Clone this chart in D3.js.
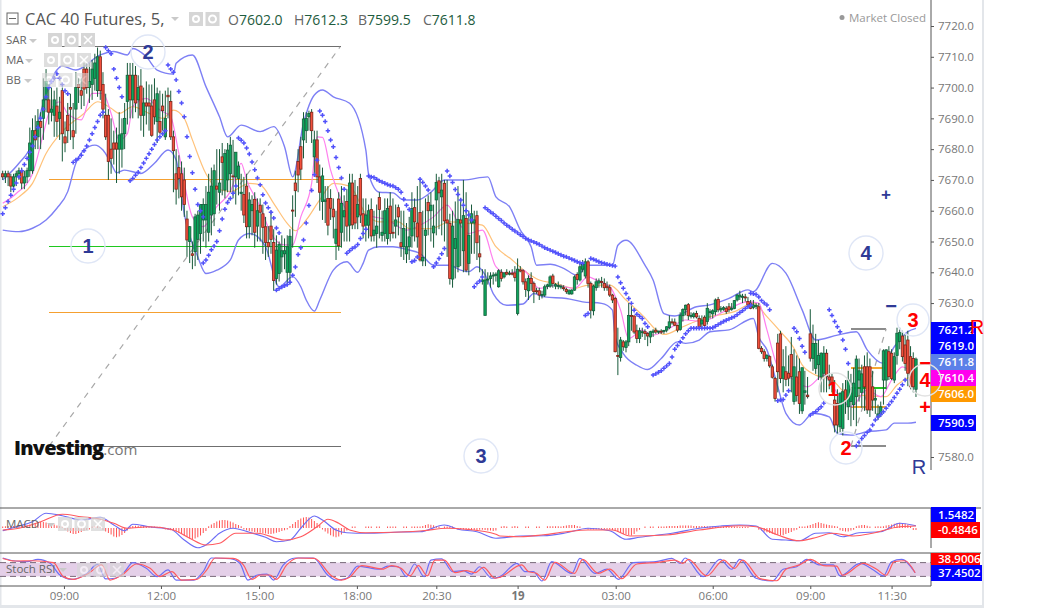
<!DOCTYPE html>
<html>
<head>
<meta charset="utf-8">
<script src="https://cdnjs.cloudflare.com/ajax/libs/d3/7.8.5/d3.min.js"></script>
<style>
body { margin: 0; background: #fff; }
text { font-family: "Open Sans", sans-serif; }
</style>
</head>
<body>
<svg id="chart" width="1047" height="608"></svg>
<script>
// open, high, low, close per 5 minute bar
var barsEarly = [
[7672,7673,7670,7671],[7671,7673,7669,7672],[7672,7673,7668,7671],[7671,7672,7666,7668],[7668,7672,7666,7671],[7671,7673,7668,7672],
[7672,7674,7670,7673],[7673,7674,7667,7669],[7669,7673,7667,7671],[7671,7674,7669,7673],[7673,7687,7671,7682],[7673,7690,7672,7686],
[7686,7691,7680,7683],[7684,7693,7680,7689],[7689,7692,7680,7687],[7690,7703,7683,7696],[7696,7706,7692,7702],[7696,7701,7688,7692],
[7692,7700,7689,7693],[7691,7699,7684,7696],[7694,7700,7684,7689],[7690,7697,7683,7692],[7699,7700,7676,7685],[7684,7689,7679,7682]
];
var barsMorning = [
[7691,7695,7682,7686],[7693.5,7698,7683,7693],[7686,7695,7680,7684],[7693,7705,7685,7700],[7701,7703,7695,7700],[7699,7703,7693,7697.5],
[7706,7708,7694,7699.5],[7706,7708,7698,7700],[7700,7708,7695,7702],[7701,7709,7696,7706],[7703,7711,7699,7708],[7699,7713,7697,7710],
[7710,7712,7696,7699],[7701,7705,7690,7693],[7691,7698,7683,7684],[7691,7693,7670,7676],[7680,7690,7672,7677],[7682,7686,7675,7680],
[7682,7687,7669,7680],[7680,7692,7672,7684.6],[7680,7690,7674,7685],[7685,7695,7680,7690],[7695.5,7708,7688,7704],[7704,7708,7690,7696],
[7696,7708,7690,7704],[7704,7707,7692,7695],[7696,7704,7690,7700],[7700.5,7706,7686,7691],[7691,7700,7684,7695],[7695,7702,7688,7694],
[7695,7701,7686,7694],[7694,7701,7684,7684.5],[7696,7703,7688,7690.5],[7689,7700,7682,7698],[7689,7699,7685,7685.5],[7694,7698,7686,7692.5],
[7684,7699,7683,7690]
];
var barsNoon = [
[7697.5,7700,7690,7697],[7695.5,7699,7683,7684],[7684,7686,7666,7679.5],[7672,7680,7662,7667],[7674,7678,7664,7670.5],[7672,7676,7660,7664.5],
[7670,7674,7658,7662],[7657.3,7660,7645,7650.5],[7650,7655,7643,7654.8],[7646,7650,7641,7645.5],[7646.7,7659,7642,7658],[7650.7,7660,7644,7658.6],
[7652.6,7662,7646,7662],[7657,7664,7650,7662],[7657,7668,7648,7662],[7653,7672,7650,7666],[7658.6,7674,7652,7668],[7659,7675,7655,7673],
[7668,7680,7662,7667],[7666,7680,7660,7669],[7677.5,7682,7665,7675.7],[7666.7,7680,7664,7678.6],[7670,7682,7666,7679.7],[7672,7684,7666,7681.3],
[7671.3,7683,7664,7671],[7671,7679,7662,7679],[7670.5,7676,7665,7674.5],[7665.6,7672,7660,7666],[7665.3,7671,7656,7658.6],[7668,7672,7651,7654.8],
[7654.8,7666,7651,7663.5],[7660,7665,7652,7662],[7663.7,7666,7648,7653],[7655,7664,7650,7660],[7661.8,7664,7650,7659.5]
];
var barsAfternoon = [
[7659,7662,7646,7654.6],[7654.8,7658,7644,7649.7],[7649.7,7655,7645,7648.3],[7655,7660,7646,7650.7],[7649.7,7654,7634,7637.3],[7638,7652,7636,7647.2],
[7639.6,7650,7637,7649],[7645,7652,7640,7647],[7646,7651,7641,7647],[7640,7652,7636,7648.3],[7640,7654,7636,7651.7],[7660.2,7665,7648,7660],
[7669,7673,7658,7666.5],[7676,7680,7666,7671.6],[7680.8,7684,7670,7673.5],[7683,7692,7677,7689.8],[7686,7692,7682,7690],[7690.5,7692.5,7686,7691.6],
[7692,7693,7682,7686],[7677.5,7686,7672,7683],[7683,7686,7669,7671],[7671,7675,7660,7666],[7663,7674,7657,7671.3],[7663,7668,7656,7663.5],
[7664,7668,7652,7655.3],[7664,7667,7657,7660.8],[7660.5,7664,7651,7658],[7649.4,7660,7644,7654],[7663.8,7666,7647,7648.6],[7653,7668,7648,7662.4],
[7658,7665,7650,7660],[7663,7667,7650,7655],[7655.3,7672,7650,7669]
];
var barsEvening = [
[7669,7672,7654,7655.4],[7665,7670,7654,7656],[7658,7668,7654,7662],[7670.5,7672,7656,7658.6],[7659,7664,7651,7655],[7655.3,7664,7650,7658.6],
[7655.3,7662,7651,7660],[7660.4,7664,7650,7651.8],[7652,7660,7650,7653.7],[7652.6,7662,7648,7655],[7664.3,7666,7651,7660.4],[7652,7660,7650,7653],
[7652.6,7664,7650,7660],[7651,7664,7649,7660.7],[7661.5,7666,7650,7652.6],[7653,7664,7651,7652.8],[7655,7662,7651,7657],[7661,7662,7652,7658],
[7649.6,7660,7645,7648.3],[7648.3,7660,7644,7654.2],[7646,7656,7643,7648.3],[7648.3,7658,7644,7651.5],[7651.8,7666,7648,7660.7],[7661,7664,7650,7656.4],
[7656,7668,7648,7651.5],[7659.4,7670,7643.5,7644],[7643.7,7660,7642,7644.8],[7652,7664,7642,7653.7],[7662.7,7665,7652,7660],[7660,7666,7650,7661.8],
[7652.8,7662,7648,7655],[7663.5,7672,7652,7669.2],[7669.7,7671,7654,7665.8],[7664.5,7672,7652,7666.7],[7668.9,7670,7650,7656.7],[7657,7670,7645,7656],
[7655.9,7659,7636,7638],[7637.8,7660,7635,7655],[7647.7,7663,7638,7651],[7641.8,7668,7640,7657.2],[7657,7664,7642,7656],[7647,7670,7640,7658.4],
[7657.5,7666,7640,7640.7],[7642.9,7660,7639,7652],[7656,7662,7646,7659],[7656,7660,7646,7657],[7658.4,7660,7644,7649.6],[7646,7652,7640,7645],
[7637,7641,7636,7637.5]
];
var barsNight = [
[7626,7641,7626,7637.5],[7637.5,7640,7636,7637.8],[7638,7640,7635,7638.8],[7639,7640,7636,7639.1],[7639,7640,7637,7639.4],[7635.3,7641,7635,7640.5],
[7640,7641,7637,7638],[7638.5,7640,7638,7639.8],[7640,7641,7639,7639.4],[7639.5,7640.5,7639,7639.7],[7639.7,7641,7639,7639.5],[7639.8,7642,7637,7638.3],
[7626.6,7644.5,7626,7641],[7640.8,7642,7640,7640.4],[7640.5,7641,7636,7636.9],[7636.9,7638,7632,7634.4],[7634,7639,7631,7638],[7638,7640,7634,7636.4],
[7636.4,7637,7630,7633.7],[7634,7635,7633,7633.8],[7634,7635,7631,7632.6],[7632.6,7634,7631.5,7632.8],[7632.6,7636,7632,7635.3],[7635.4,7636.3,7634.5,7635.9],
[7635.5,7639,7635,7638.5],[7638.8,7639.5,7635,7636.4],[7635.5,7636.5,7634.5,7636],[7635.5,7637,7634.5,7635.7],[7635.3,7636,7634.5,7635.5],[7635,7635.8,7634,7634.8],
[7634.4,7635,7633,7633.7],[7633,7634.5,7632.7,7634],[7633,7634.5,7632.7,7634.2],[7634.2,7639,7634,7638.5],[7639.3,7640,7636,7637.7],[7637.5,7643,7637,7641.8],
[7641,7644,7640,7642.5],[7638.8,7644.5,7638,7643.4],[7643.4,7644,7635,7636.4],[7636.4,7637,7625,7627.7],[7627.5,7636,7626,7635.5],[7635,7638,7634,7636.9],
[7636.5,7638,7635,7637.2],[7637,7638.5,7635,7636.8],[7636.4,7638,7634,7635],[7635.5,7637,7634,7635],[7635,7636,7632,7632.6],[7632.6,7633,7630,7631]
];
var barsDawn = [
[7631.5,7632,7614,7614.2],[7613,7622,7606.6,7612.8],[7612.3,7619,7611,7618],[7617.4,7618,7614.5,7615.8],[7615.6,7618,7614,7617.4],[7617.4,7630,7616,7626],
[7626,7629,7621,7625.8],[7625.8,7626,7620,7620.6],[7621,7623,7617,7618.5],[7618.5,7622,7617,7621],[7620.5,7622,7619,7620.7],[7620.7,7621.5,7618,7620.1],
[7620.1,7620.5,7616,7619.3],[7619,7621,7617,7620.7],[7620.5,7621.5,7619,7620.9],[7621.2,7622,7620,7620.6],[7620.6,7621,7620,7620.9],[7620.9,7621.5,7620,7620.8],
[7620.8,7621.3,7620,7621.1],[7621.2,7622.5,7620.5,7622.3],[7622,7626,7621.5,7623.9],[7623.9,7625,7623,7623.7],[7623.8,7625,7622.5,7622.8],[7622.7,7623,7620.5,7621.2],
[7621.4,7627,7621,7625.9],[7625.9,7628.3,7624,7627.9],[7627.9,7629.5,7626,7629.3],[7629.5,7630,7624.5,7625.9],[7625.9,7627,7625,7626],[7625.6,7627,7625,7626.5],
[7626.6,7627.5,7625,7625.5],[7625,7626,7621.5,7622.3],[7623.2,7626,7622,7624.5],[7625.4,7626,7622,7622.7],[7624,7630,7623,7628.3],[7627,7628,7625,7627.2],
[7626.5,7628,7625,7627.5],[7627.2,7631.5,7626,7631],[7631.2,7632,7627,7627.8],[7627.8,7629,7627,7628.2],[7628,7629,7627.5,7628.5],[7628.3,7629,7626.5,7627.2],
[7628.8,7630,7627,7627.8],[7628,7630,7627.5,7628.3],[7628.3,7631,7628,7630.8],[7631,7633,7630.5,7632.6],[7632,7634,7631,7632.6],[7632,7633,7630,7632.2],
[7632,7633,7630.5,7631.8],[7630.5,7632,7629,7629.4],[7630,7631,7628,7628.3],[7628.6,7631,7628,7629.4],[7629,7630,7628,7629.2]
];
var barsLate = [
[7628.8,7630,7615,7615.3],[7615.3,7616,7613.5,7614.2],[7614.2,7615,7611,7612],[7612,7613.5,7611,7613],[7612.6,7613,7609,7609.6],[7609.3,7610,7605.5,7605.9],
[7605.5,7606,7598,7599],[7617,7620,7601,7607.7],[7620,7621,7604,7605.5],[7605.5,7615,7601,7609.3],[7607.7,7616,7603,7605.2],[7607.2,7613,7603,7605.6],
[7613.3,7619,7601,7606.1],[7598,7615,7597,7609.3],[7606,7613,7598,7600],[7607.7,7612,7594,7597.4],[7595,7609,7594,7609],[7601,7608,7597,7601.5],
[7600.1,7606,7599,7599.6],[7620,7628,7611,7612.1],[7612,7623,7608,7616.9],[7608.8,7620,7607,7616.9],[7610,7618,7605,7613],[7606,7614,7601,7613.7],
[7607.2,7616,7601,7613.7],[7613.7,7615,7601,7606.1],[7606,7610,7602,7605],[7606,7607,7601,7604],[7598.5,7605,7588,7590.4],[7597.4,7602,7587.5,7590.4],
[7589.8,7601,7588,7600.7],[7589.3,7604,7587,7601.2],[7601.8,7605,7594,7598.5],[7596.3,7608,7592,7605],[7598,7607,7590,7602],[7597,7609,7592,7604],
[7599.6,7613,7590,7611.8],[7605,7612,7598,7608],[7601,7610,7596,7607],[7609.3,7613,7595,7602.8],[7609.3,7614,7594,7595.3],[7609.3,7612,7593,7595.3],
[7602.8,7608,7595,7598.5],[7598.5,7602,7594,7599],[7593.1,7597,7592,7594],[7594,7598,7593,7596.3],[7605,7615,7597,7614.5],[7605,7615,7602,7614.8],
[7614.2,7616,7605,7606.1],[7613.7,7615,7605,7605.5],[7605,7614,7604,7612.6],[7613,7622,7610,7620.2],[7617.5,7622,7615,7620.4],[7619.3,7621,7611,7612.6],
[7616.4,7620,7608,7610.4],[7618,7621,7603,7607.2],[7612.6,7616,7602,7602.8],[7612,7614,7601,7602.8],[7602,7612.3,7599.5,7611.8]
];

// indicator lines as [bar, value]
var bbUpper = [[0,7670],[6,7675.4],[11,7682],[15,7695],[20,7705.7],[22,7707],[27,7705.7],[36,7710.6],[41,7711.7],[46,7710.6],[48,7712.7],[53,7710],[57,7705.7],[63,7704.4],[64,7707.9],[70,7710.6],[75,7700.3],[80,7690.5],[83,7684],[88,7687.8],[95,7685.7],[100,7687.3],[104,7680.8],[107,7671],[111,7688.4],[115,7697.6],[118,7699.2],[122,7697],[128,7694.9],[134,7679.7],[135,7672],[139,7666],[144,7665.8],[148,7663.5],[153,7663.5],[158,7666],[163,7670],[170,7670],[179,7671],[182,7664.5],[187,7661.3],[191,7653.7],[195,7648.3],[197,7642.3],[202,7642.6],[207,7641.3],[212,7639],[216,7642.3],[225,7642.3],[227,7648.8],[230,7650.4],[237,7642.3],[240,7637.5],[244,7626.6],[248,7625.8],[256,7628.8],[261,7629.4],[268,7631.5],[275,7634.3],[277,7633.7],[284,7642.9],[289,7639.7],[295,7627.8],[300,7618],[308,7619.6],[315,7620.7],[319,7614.8],[325,7610.4],[329,7615.8],[334,7620.7],[337,7621.8]];
var bbLower = [[0,7653.7],[6,7653.2],[11,7654.3],[16,7657],[20,7660.8],[24,7666.2],[27,7675.4],[30,7679.7],[34,7681.3],[37,7679.7],[40,7675.4],[42,7672.3],[45,7673.2],[51,7672.1],[56,7675.4],[61,7679.7],[64,7676.5],[67,7659],[72,7645],[75,7639.6],[79,7640.7],[84,7644],[87,7650.5],[91,7652.6],[94,7651.6],[97,7648.3],[102,7635.3],[107,7638.6],[110,7635.3],[112,7631],[115,7627.4],[117,7631],[122,7640.7],[127,7643.4],[131,7640],[133,7642.9],[135,7647.2],[139,7648.3],[144,7648.3],[149,7647.4],[154,7646.1],[159,7642.3],[165,7642.3],[169,7640.7],[172,7640.2],[175,7641.8],[179,7637.5],[181,7633.1],[186,7629.3],[192,7629.7],[196,7633.1],[200,7632],[208,7631.5],[214,7630.4],[221,7629.9],[225,7627.7],[226,7619],[229,7613.6],[234,7609.8],[238,7608.4],[243,7612],[249,7617.4],[252,7616.9],[257,7618],[261,7620.7],[268,7621.3],[277,7625],[279,7619],[282,7614.8],[286,7602.8],[289,7594.2],[294,7590.4],[299,7594.2],[305,7593],[308,7587.7],[313,7587.1],[319,7588.2],[326,7588.8],[329,7591],[334,7591],[337,7591.3]];
var maSlow = [[0,7661.3],[6,7664.5],[11,7668.9],[16,7678.6],[22,7685.7],[30,7691.6],[35,7695.4],[40,7693.3],[43,7691.6],[48,7693.8],[54,7691.6],[59,7690],[63,7692.7],[67,7690],[70,7683],[75,7672],[79,7667.3],[84,7666.2],[91,7668.9],[95,7668.4],[100,7662.4],[105,7655.9],[108,7653.5],[112,7657],[117,7663.5],[122,7668.9],[128,7668],[134,7659],[139,7656.4],[146,7656.4],[150,7654.2],[158,7654.2],[165,7656.4],[172,7655.9],[177,7655.3],[182,7648.3],[188,7644],[193,7640.2],[198,7637.5],[204,7636.4],[211,7634.8],[216,7635.8],[224,7635.8],[230,7631],[236,7626.1],[244,7619.8],[251,7622.3],[257,7624.5],[261,7625.6],[270,7627.2],[277,7630],[282,7625.6],[287,7620.7],[292,7615.3],[295,7609.9],[300,7606.6],[306,7605],[313,7599.6],[317,7600],[326,7599.6],[330,7603.4],[335,7606.1],[337,7606.6]];
var maFast = [[0,7662.4],[5,7665.6],[11,7672],[15,7685],[17,7691.6],[21,7695.4],[24,7691.6],[29,7689.5],[33,7698.1],[37,7698.1],[40,7691.6],[43,7683],[46,7685],[48,7693.8],[53,7696.5],[58,7692.7],[62,7690.5],[65,7678.6],[70,7658],[74,7654.8],[79,7661.3],[84,7666.2],[88,7675.4],[90,7670],[95,7661.3],[99,7652.6],[104,7648.9],[107,7648.9],[110,7658],[114,7668.9],[116,7684],[118,7683.8],[121,7673.2],[125,7663.5],[128,7659],[132,7659],[137,7658],[142,7657],[149,7653.7],[154,7655.3],[159,7658],[164,7661.8],[168,7656.4],[172,7652.6],[177,7653.7],[182,7641.8],[186,7639.6],[192,7640.7],[198,7634.8],[204,7635.8],[211,7634.8],[216,7638.5],[219,7637.5],[224,7635.3],[228,7627.7],[231,7618.5],[236,7621.2],[240,7619.6],[246,7621.8],[252,7624.5],[258,7624],[266,7627.2],[275,7630.5],[279,7630],[282,7621.3],[286,7609.3],[291,7605.6],[297,7602.8],[303,7606.6],[308,7600.7],[313,7596.3],[319,7601.8],[324,7599.6],[328,7605],[332,7609.3],[337,7606]];

// parabolic SAR runs: [first bar, values for each following bar]
var sarRuns = [
[0,[7659,7661,7663,7665,7667,7669,7671,7673,7675,7677,7679,7681,7684,7687,7690,7693,7697,7700,7702,7703]],
[20,[7704.5,7703,7701,7699,7698]],
[26,[7675.7,7676.5,7677,7678,7679.5,7681,7683,7685,7687,7689,7691,7692]],
[38,[7713,7712,7711,7706,7703,7700,7697]],
[47,[7669.7,7670.5,7671.5,7672.5,7674,7675.5,7677,7678.5,7680,7681.5,7683,7684,7685,7686]],
[61,[7707.3,7706,7705,7702.5,7698.7,7695,7690.5,7684,7677.6,7672.3,7667,7662,7660,7658]],
[74,[7643,7644,7645.5,7647.3,7648.5,7650,7653.5,7657.3,7660.5,7662.7,7664,7665.7,7668]],
[87,[7683.6,7682.9,7682,7680.4,7678.4,7675.8,7673.3,7670.6,7668.4,7665.2,7662.5,7661,7659.5,7657.6,7654.4,7652.8]],
[101,[7634.2,7634.7,7635.2,7635.6,7636,7636.8,7639,7641.7,7645.8,7648,7650.5,7656,7661.7,7666.6,7671.7,7676.4]],
[117,[7692.4,7691,7689,7686,7683,7680.8,7677.3,7674,7670.6,7667]],
[127,[7646.2,7647,7647.7,7648.2,7649,7651,7652.6,7654]],
[135,[7671.3,7671,7670.8,7670.2,7669.7,7669.3,7668.9,7668.5,7668.2,7668,7667.5,7667,7666,7663.7,7661.8,7660.4]],
[151,[7643.4,7643.8,7645]],
[154,[7670.2,7669.2,7668,7666.7]],
[159,[7641.8,7643,7644.5,7646,7647.7]],
[164,[7672.9,7671.3,7669.2,7666.9,7665.3,7663.5,7661.8,7660,7658.6,7657]],
[174,[7635.3,7636.4,7637.2,7638.5]],
[178,[7661,7660.3,7659.6,7659,7658.2,7657.5,7656.8,7656,7655.3,7654.7,7654,7653.4,7652.8,7652.2,7651.6,7651,7650.6,7650.2,7649.8,7649.4,7649,7648.5,7648,7647.6,7647.2,7646.8,7646.4,7646,7645.6,7645.2,7645,7644.6,7644.2,7643.8,7643.4,7643.1,7642.9]],
[215,[7626,7626.6]],
[217,[7644.5,7644.2,7643.8,7643.4,7643.1,7642.9,7642.6,7642.4,7642.2,7642,7638.5,7636.6,7634.8,7633.1,7631.5,7629.9,7627.7,7626.4,7625.7,7625,7623.4,7622.3]],
[240,[7606.6,7607,7607.5,7608,7608.8,7609.6,7610.4,7612.5,7615,7616.2,7617.4,7618.7,7620,7621,7621.8,7621.8,7621.8,7621.8,7621.8,7621.8,7621.9,7621.8]],
[262,[7622,7622.5,7623,7623.5,7624,7624.4,7624.8,7625.2,7625.6,7626.2,7626.9,7627.5,7628.2,7628.8,7629.3]],
[276,[7633.2,7633,7632.8,7632,7630.8,7630,7629.4,7627.8]],
[286,[7598.3,7598.5,7598.7,7600.1,7601.5]],
[292,[7621.8,7620.7,7618.5,7616,7614]],
[298,[7593.6,7594.2,7594.7,7595.5,7596.3,7597.5]],
[305,[7627.8,7626,7624,7622.3,7620.7,7618,7615,7610.4]],
[315,[7583.6,7584.8,7586,7587,7588,7588.8,7590.4,7592,7593,7593.8,7594.7,7595.8,7597,7598,7599.3,7600.7,7602,7603.5,7605]]
];

// MACD pane
var macdLine = [[0,-1.1],[5,.5],[11,2.5],[16,5.9],[22,4.9],[29,3.2],[36,4.3],[41,1.2],[45,-1.1],[48,1.5],[54,.5],[62,-.5],[67,-4.8],[72,-7.9],[75,-6.8],[80,-2.1],[85,-.1],[91,-1.7],[97,-3.7],[101,-5.5],[106,-4.8],[110,-.1],[115,4.8],[118,3.2],[123,-.8],[127,-1.9],[134,-2.1],[147,-1.6],[154,-1.5],[163,1.2],[168,-.5],[175,-1.5],[182,-4.1],[191,-3.2],[199.5,-3.1],[208,-1.9],[216,-.1],[224,-1.1],[230,-4.5],[235,-3.7],[247,-2.1],[257,-.1],[265,.8],[272,1.2],[278,.8],[284,-4.5],[289,-4.8],[294,-5.1],[300,-2.1],[305,-1.9],[310,-3.5],[316,-1.9],[324,-1.5],[331,1.9],[337,.9]];
var macdSignal = [[0,-.8],[6,-.1],[14,2.5],[22,5.5],[29,4.5],[36,3.5],[41,1.9],[46,-.1],[54,.5],[63,-.8],[69,-4.1],[75,-6.8],[80,-6.1],[86,-2.1],[94,-2.1],[104,-4.8],[110,-3.5],[116,.5],[120,3.5],[124,1.9],[128,-.8],[134,-1.9],[147,-1.6],[155,-1.1],[164,-.1],[171,-.5],[182,-2.5],[183.5,-3.2],[191,-3.5],[199.5,-2.7],[208,-1.5],[216,-.8],[225,-.8],[231.5,-3.2],[245,-2.8],[257,-.8],[272,.9],[278,.5],[286,-2.8],[294,-5.1],[300.5,-3.7],[306,-2.1],[314,-3.2],[321,-2.1],[331,.5],[337,.8]];
var macdHist = [.2,.3,.4,.3,.4,.5,.5,
.6,.8,.8,1,1.2,1.5,1.8,2,2,1.8,1.5,1.2,1,.6,.4,.2,
-.4,-1,-1.6,-2,-2,-1.6,-1.2,
-.8,-.4,-.2,.2,.4,.3,.1,-.4,
-1,-1.6,-2.2,-3,-3.3,-3,-2.4,-1.6,-.6,
.2,.4,.5,.5,.4,.4,.3,.2,.2,.2,.1,.1,0,-.2,-.3,-.5,
-.8,-1.2,-1.6,-2,-2.6,-3.2,-3.8,-4,-3.8,-3.3,-2.6,-1.6,-.8,
.3,1,1.6,2.2,2.6,2.8,2.8,2.6,2.2,1.8,1.2,.8,.3,
-.2,-.5,-.8,-1,-1.2,-1.4,-1.5,-1.6,-1.8,-2,-2,-1.8,-1.5,-1.2,-.8,-.5,-.2,
.4,1.2,2,2.8,3.4,3.8,4,3.8,3.2,2.4,1.6,.8,
-.2,-1,-1.8,-2.5,-3,-3.3,-3,-2.2,-1.4,-.6,
0,.2,.2,0,0,0,.2,.2,.2,0,.2,.2,0,0,.2,.2,.2,.2,0,0,.2,.2,0,
.2,.2,.2,.2,.4,.8,1.1,.9,.7,.4,.2,0,.2,.2,.2,.2,0,-.2,-.2,-.2,
-.3,-.3,-.4,-.4,-.4,-.3,-.3,-.4,-.6,-.6,-.8,-.6,0,.2,.4,.2,0,.2,.4,.2,
0,0,.2,.2,0,0,.2,.2,0,0,.3,.3,.3,.3,.3,.2,.4,.6,.8,.8,.8,.4,.2,0,0,-.2,-.2,-.2,-.2,-.2,-.2,-.2,-.2,-.2,-.4,
-.8,-1.2,-1.6,-2,-2.2,-2.4,-2.6,-2,-1,-.3,
0,.2,0,.2,.2,0,.2,.2,.2,.3,.4,
.4,.4,.4,.6,.6,.6,.6,.6,.4,.4,.4,.4,.4,.3,.3,.3,.3,.3,.2,.2,.2,.2,.2,.2,
.2,.1,.1,.1,.1,0,0,0,
-.3,-.6,-1,-1.3,-1.6,-1.9,-2.2,-2.4,-2.6,-2.5,-2,-1.6,-1.2,-.6,-.3,
.2,.2,.2,.5,.8,1.2,
1.6,1.9,1.6,1.3,1,.8,.6,.4,.2,
-.5,-.8,-1,-1,-.6,-.3,
.3,.6,.8,.8,.5,.2,0,.2,
.3,.2,.3,.6,.8,1,1.3,1.5,1.7,1.6,1.4,1,.4,-.4,-.4];

// Stoch RSI pane
var stochK = [[0,100],[4,88],[9,84],[13,94],[17.5,77],[21,27],[25.5,7],[31,33],[35,72],[38,9],[41.5,12],[45,41],[48,80],[53,55],[57,19],[61,48],[64,4],[70.5,4],[74,41],[77,100],[84,97],[87.5,77],[90.5,4],[94,26],[97.5,30],[100,4],[103.5,69],[108,100],[114.6,100],[120,25],[123,4],[127,12],[131,65],[139,51],[142,65],[146,62],[149,19],[152,74],[155.5,19],[158,91],[162,96],[166,41],[170,45],[173,30],[176,62],[180.5,12],[183.5,19],[189.7,77],[192.7,41],[195.8,41],[199,0],[202.6,84],[210,33],[213,98],[218.6,33],[223,52],[227.2,7],[232.7,80],[241,84],[246.9,98],[250,77],[251.8,100],[258.5,19],[264.7,94],[269,51],[272,94],[278,12],[284,0],[288,51],[293,62],[296.7,94],[301.6,70],[306.5,70],[309,22],[316.4,77],[321.3,48],[325,22],[328,84],[331.7,94],[336.7,36]];
var stochD = [[0,98],[4.5,87],[11,88],[18.7,80],[22.4,19],[26,7],[31.6,33],[36.5,70],[39.6,4],[44,26],[49.4,74],[54.4,55],[58,19],[62.4,41],[66,4],[71.6,7],[75.3,48],[78.4,100],[85,98],[88.8,70],[92,7],[95,26],[98.6,26],[101,7],[104.8,70],[109,100],[115,98],[121.4,22],[125,4],[128,16],[132.5,67],[140.5,52],[143.5,67],[147,55],[150.3,22],[153.4,67],[156.7,22],[159.5,91],[163,91],[167,36],[171,45],[174.3,36],[177.4,59],[181.7,12],[183.5,16],[191.5,70],[194,41],[197,33],[200,4],[203.8,81],[211,33],[214,94],[219.8,33],[224,52],[228.4,10],[234,74],[242.6,82],[248,91],[251,77],[253,94],[259.8,22],[266,91],[270,55],[273,91],[279.5,10],[285.6,1],[289,51],[294,70],[298,94],[303,67],[307.7,65],[310,25],[317.6,77],[322.5,51],[326,25],[329,84],[332.9,88],[336.7,36]];

// axes (7620 to 7590 sit under the value tags in the picture)
var priceTicks = [7720,7710,7700,7690,7680,7670,7660,7650,7640,7630,7580];
var timeBars = [22.6,58.4,94.6,130.7,160,190,226.2,262,298,328];
var timeLabels = ["09:00","12:00","15:00","18:00","20:30","19","03:00","06:00","09:00","11:30"];

var bars = [].concat(barsEarly, barsMorning, barsNoon, barsAfternoon, barsEvening, barsNight, barsDawn, barsLate);

var svg = d3.select("#chart");
var x = d3.scaleLinear().domain([0, 100]).range([2.7, 273.7]);
var y = d3.scaleLinear().domain([7720, 7580]).range([26, 457]);
var yMacd = d3.scaleLinear().domain([-8, 8]).range([548, 508]);
var yStoch = d3.scaleLinear().domain([0, 100]).range([581, 558]);

svg.append("defs").append("clipPath").attr("id", "plot").append("rect")
    .attr("width", 931).attr("height", 586);

// frame
svg.append("rect").attr("x", 982).attr("width", 2).attr("height", 608).attr("fill", "#e3e6ea");
svg.append("rect").attr("y", 605).attr("width", 984).attr("height", 3).attr("fill", "#e3e6ea");
svg.append("rect").attr("width", 1.5).attr("height", 605).attr("fill", "#e3e6ea");

var plot = svg.append("g").attr("clip-path", "url(#plot)");

function priceLine(data, color, width, scale) {
    var line = d3.line()
        .x(function (d) { return x(d[0]); })
        .y(function (d) { return scale(d[1]); })
        .curve(d3.curveMonotoneX);
    return plot.append("path")
        .attr("d", line(data))
        .attr("fill", "none")
        .attr("stroke", color)
        .attr("stroke-width", width);
}

// pattern lines
var levelLines = [
    {p: 7713.2, from: 0, to: 125, c: "#6f6f6f", w: 1},
    {p: 7670.3, from: 0, to: 125, c: "#f5a030", w: 1},
    {p: 7648.5, from: 0, to: 125, c: "#1fc81f", w: 1},
    {p: 7626.9, from: 0, to: 125, c: "#f5a030", w: 1.5},
    {p: 7583.5, from: 0, to: 125, c: "#6f6f6f", w: 1},
    {p: 7621.6, from: 313, to: 326, c: "#8c8c8c", w: 2},
    {p: 7609, from: 313, to: 326, c: "#f5a833", w: 2},
    {p: 7602.4, from: 313, to: 326, c: "#22c522", w: 2},
    {p: 7596.3, from: 313, to: 326, c: "#f5a833", w: 2},
    {p: 7583.5, from: 313, to: 326, c: "#8c8c8c", w: 2}
];
var levelStartBar = 17.1;
plot.selectAll(".level").data(levelLines).enter().append("line")
    .attr("x1", function (d) { return x(d.from === 0 ? levelStartBar : d.from); })
    .attr("x2", function (d) { return x(d.to); })
    .attr("y1", function (d) { return y(d.p); })
    .attr("y2", function (d) { return y(d.p); })
    .attr("stroke", function (d) { return d.c; })
    .attr("stroke-width", function (d) { return d.w; })
    .attr("shape-rendering", "crispEdges");

var diagonals = [[17.1, 7583.5, 124.5, 7713.2], [313, 7583.5, 326, 7621.6]];
plot.selectAll(".diag").data(diagonals).enter().append("line")
    .attr("x1", function (d) { return x(d[0]); })
    .attr("y1", function (d) { return y(d[1]); })
    .attr("x2", function (d) { return x(d[2]); })
    .attr("y2", function (d) { return y(d[3]); })
    .attr("stroke", "#a8a8a8")
    .attr("stroke-width", 1.2)
    .attr("stroke-dasharray", "6 6");

priceLine(bbUpper, "#7e80f5", 1.4, y);
priceLine(bbLower, "#7e80f5", 1.4, y);
priceLine(maSlow, "#ffc27a", 1.2, y);
priceLine(maFast, "#ff80ee", 1.2, y);

// candles
var candle = plot.selectAll(".candle").data(bars).enter().append("g");
candle.append("line")
    .attr("x1", function (d, i) { return x(i); })
    .attr("x2", function (d, i) { return x(i); })
    .attr("y1", function (d) { return y(d[1]); })
    .attr("y2", function (d) { return y(d[2]); })
    .attr("stroke", "#17593a")
    .attr("stroke-width", 1);
candle.append("rect")
    .attr("x", function (d, i) { return x(i) - 1.2; })
    .attr("width", 2.4)
    .attr("y", function (d) { return y(Math.max(d[0], d[3])); })
    .attr("height", function (d) { return Math.max(1, Math.abs(y(d[0]) - y(d[3]))); })
    .attr("fill", function (d) { return d[3] >= d[0] ? "#0ea55c" : "#f2503c"; })
    .attr("stroke", function (d) { return d[3] >= d[0] ? "#14603c" : "#7d2418"; })
    .attr("stroke-width", .8);

// SAR
var cross = d3.symbol().type(d3.symbolCross).size(11);
sarRuns.forEach(function (run) {
    plot.selectAll(null).data(run[1]).enter().append("path")
        .attr("d", cross)
        .attr("transform", function (d, i) {
            return "translate(" + x(run[0] + i) + "," + y(d) + ")";
        })
        .attr("fill", "#5252fb");
});

// MACD pane
plot.selectAll(".hist").data(macdHist).enter().append("line")
    .attr("x1", function (d, i) { return x(i); })
    .attr("x2", function (d, i) { return x(i); })
    .attr("y1", yMacd(0))
    .attr("y2", function (d) { return d === 0 ? yMacd(0) : yMacd(d) + (d > 0 ? -1 : 1); })
    .attr("stroke", "#ff4040")
    .attr("stroke-width", .9);
priceLine(macdLine, "#6d6df5", 1.2, yMacd);
priceLine(macdSignal, "#ff5a60", 1.2, yMacd);

// Stoch RSI pane
plot.append("rect").attr("x", 0).attr("width", 931)
    .attr("y", yStoch(80)).attr("height", yStoch(20) - yStoch(80))
    .attr("fill", "#e4cfe8");
[80, 20].forEach(function (v) {
    plot.append("line").attr("x1", 0).attr("x2", 931)
        .attr("y1", yStoch(v)).attr("y2", yStoch(v))
        .attr("stroke", "#7a6a7a").attr("stroke-dasharray", "6 4");
});
priceLine(stochK, "#6d6df5", 1.2, yStoch);
priceLine(stochD, "#ff5a60", 1.2, yStoch);

// pane separators
[[508, 981], [553, 981], [586, 931]].forEach(function (d) {
    svg.append("line").attr("x1", 0).attr("x2", d[1]).attr("y1", d[0]).attr("y2", d[0])
        .attr("stroke", "#555").attr("stroke-width", 1);
});

// price axis
var priceAxis = d3.axisRight(y).tickValues(priceTicks).tickSize(3).tickPadding(4)
    .tickFormat(d3.format(".1f"));
var pa = svg.append("g").attr("transform", "translate(931,0)").call(priceAxis);
pa.select(".domain").remove();
pa.selectAll("line").attr("stroke", "#555");
pa.selectAll("text").attr("fill", "#777").style("font-size", "11.5px").style("font-family", "Open Sans");
[[0, 470], [508, 548], [553, 586]].forEach(function (d) {
    svg.append("line").attr("x1", 931).attr("x2", 931).attr("y1", d[0]).attr("y2", d[1]).attr("stroke", "#555");
});

// time axis
var timeAxis = d3.axisBottom(x).tickValues(timeBars).tickSize(3).tickPadding(3)
    .tickFormat(function (d, i) { return timeLabels[i]; });
var ta = svg.append("g").attr("transform", "translate(0,586)").call(timeAxis);
ta.select(".domain").remove();
ta.selectAll("line").attr("stroke", "#555");
ta.selectAll("text").attr("fill", "#777").style("font-size", "11.5px").style("font-family", "Open Sans")
    .style("font-weight", function (d, i) { return timeLabels[i] === "19" ? "700" : "400"; });

// last value tags
var tags = [
    {t: "7621.2", c: "#0000ff", y: 322, h: 15, w: 45},
    {t: "7619.0", c: "#0000ff", y: 337, h: 17, w: 45},
    {t: "7611.8", c: "#5b80e8", y: 354, h: 16, w: 45},
    {t: "7610.4", c: "#ff00ee", y: 370, h: 16, w: 45},
    {t: "7606.0", c: "#ff9900", y: 386, h: 16, w: 45},
    {t: "7590.9", c: "#0000ff", y: 415, h: 16, w: 45},
    {t: "1.5482", c: "#0000ff", y: 507, h: 15, w: 45},
    {t: "-0.4846", c: "#ff0000", y: 522, h: 16, w: 49},
    {t: "38.9006", c: "#ff0000", y: 553, h: 12, w: 49},
    {t: "37.4502", c: "#0000ff", y: 565, h: 16, w: 51}
];
var tag = svg.selectAll(".tag").data(tags).enter().append("g");
tag.append("rect").attr("x", 931)
    .attr("y", function (d) { return d.y; })
    .attr("width", function (d) { return d.w; })
    .attr("height", function (d) { return d.h; })
    .attr("fill", function (d) { return d.c; });
tag.append("text").attr("x", 938)
    .attr("y", function (d) { return d.y + d.h / 2 + 4; })
    .attr("fill", "#fff").attr("font-size", 11.5).attr("font-weight", 600)
    .text(function (d) { return d.t; });

// wave labels
var waveCircles = [
    {x: 88, y: 246, r: 17, s: "#dfe6f6"}, {x: 148, y: 52, r: 17, s: "#dfe6f6"},
    {x: 481, y: 456, r: 17, s: "#dfe6f6"}, {x: 866, y: 253, r: 17, s: "#dfe6f6"},
    {x: 835, y: 389, r: 16, s: "#e2e2e2"}, {x: 846, y: 448, r: 16, s: "#dfe6f6"},
    {x: 913, y: 320, r: 16, s: "#dfe6f6"}, {x: 925, y: 380, r: 16, s: "#e2e2e2"}
];
svg.selectAll(".wave").data(waveCircles).enter().append("circle")
    .attr("cx", function (d) { return d.x; })
    .attr("cy", function (d) { return d.y; })
    .attr("r", function (d) { return d.r; })
    .attr("fill", "none")
    .attr("stroke", function (d) { return d.s; })
    .attr("stroke-width", 1.4);
var waveLabels = [
    {t: "1", x: 88, y: 253, c: "#2f3a96", f: 20, b: 700}, {t: "2", x: 148, y: 59, c: "#2f3a96", f: 20, b: 700},
    {t: "3", x: 481, y: 463, c: "#2f3a96", f: 20, b: 700}, {t: "4", x: 866, y: 260, c: "#2f3a96", f: 20, b: 700},
    {t: "+", x: 886, y: 200, c: "#2f3a96", f: 17, b: 700}, {t: "−", x: 891, y: 313, c: "#2f3a96", f: 20, b: 700},
    {t: "R", x: 919, y: 474, c: "#2f3a96", f: 20, b: 400},
    {t: "1", x: 833, y: 396, c: "#f00", f: 20, b: 700}, {t: "2", x: 846, y: 455, c: "#f00", f: 20, b: 700},
    {t: "3", x: 913, y: 327, c: "#f00", f: 20, b: 700}, {t: "4", x: 925, y: 387, c: "#f00", f: 20, b: 700},
    {t: "−", x: 925, y: 370, c: "#f00", f: 20, b: 700}, {t: "+", x: 925, y: 414, c: "#f00", f: 20, b: 700},
    {t: "R", x: 977, y: 334, c: "#f00", f: 20, b: 400}
];
svg.selectAll(".waveText").data(waveLabels).enter().append("text")
    .attr("x", function (d) { return d.x; })
    .attr("y", function (d) { return d.y; })
    .attr("text-anchor", "middle")
    .attr("fill", function (d) { return d.c; })
    .attr("font-size", function (d) { return d.f; })
    .attr("font-weight", function (d) { return d.b; })
    .style("font-family", "Liberation Sans")
    .text(function (d) { return d.t; });

// header and legends
function icons(ix, iy, n, alpha) {
    var glyphs = ["eye", "gear", "x"];
    for (var k = 0; k < n; k++) {
        var gx = ix + k * 16.5;
        var g = svg.append("g").attr("opacity", alpha);
        g.append("rect").attr("x", gx).attr("y", iy).attr("width", 14).attr("height", 14).attr("fill", "#d6d6d6");
        if (glyphs[k] === "x") {
            g.append("path").attr("d", "M" + (gx + 3) + "," + (iy + 3) + "l8,8m0,-8l-8,8")
                .attr("stroke", "#fff").attr("stroke-width", 1.6);
        } else {
            g.append("circle").attr("cx", gx + 7).attr("cy", iy + 7)
                .attr("r", glyphs[k] === "eye" ? 3 : 3.5)
                .attr("fill", "none").attr("stroke", "#fff").attr("stroke-width", 2);
        }
    }
}
function caret(cx, cy) {
    svg.append("path").attr("d", "M" + (cx - 4) + "," + cy + "h8l-4,4z").attr("fill", "#c9c9c9");
}
svg.append("rect").attr("x", 7).attr("y", 13).attr("width", 11).attr("height", 11)
    .attr("fill", "none").attr("stroke", "#666");
svg.append("line").attr("x1", 9).attr("x2", 16).attr("y1", 18.5).attr("y2", 18.5).attr("stroke", "#666");
svg.append("text").attr("x", 25).attr("y", 25).attr("font-size", 16.5).attr("font-weight", 500).attr("fill", "#555").text("CAC 40 Futures, 5,");
caret(175, 17);
icons(189, 12, 2, 1);

var ohlc = [["O", "7602.0", 228], ["H", "7612.3", 294], ["B", "7599.5", 358], ["C", "7611.8", 423]];
ohlc.forEach(function (d) {
    var t = svg.append("text").attr("x", d[2]).attr("y", 25).attr("font-size", 14);
    t.append("tspan").attr("fill", "#666").text(d[0]);
    t.append("tspan").attr("fill", "#1e5c40").text(d[1]);
});

svg.append("circle").attr("cx", 842).attr("cy", 17.5).attr("r", 2.5).attr("fill", "#999");
svg.append("text").attr("x", 849).attr("y", 22).attr("font-size", 11.5).attr("fill", "#999").text("Market Closed");

var legends = [
    {t: "SAR", y: 44, caret: 33, ix: 48, iy: 33, a: 1},
    {t: "MA", y: 64, caret: 29, ix: 44, iy: 53, a: .8},
    {t: "BB", y: 84, caret: 28, ix: 42, iy: 73, a: .6},
    {t: "MACD", y: 528, caret: 51, ix: 58, iy: 517, a: .75},
    {t: "Stoch RSI", y: 573, caret: 63, ix: 77, iy: 563, a: .6}
];
legends.forEach(function (d) {
    svg.append("text").attr("x", 6).attr("y", d.y).attr("font-size", 11.5).attr("fill", "#666").text(d.t);
    caret(d.caret, d.y - 5);
    icons(d.ix, d.iy, 3, d.a);
});

// logo
var logo = svg.append("text").attr("x", 14).attr("y", 455);
logo.append("tspan").attr("font-size", 20).attr("font-weight", 800).attr("fill", "#111")
    .attr("letter-spacing", "-.8").text("Investing");
logo.append("tspan").attr("font-size", 15).attr("fill", "#777").text(".com");
</script>
</body>
</html>
